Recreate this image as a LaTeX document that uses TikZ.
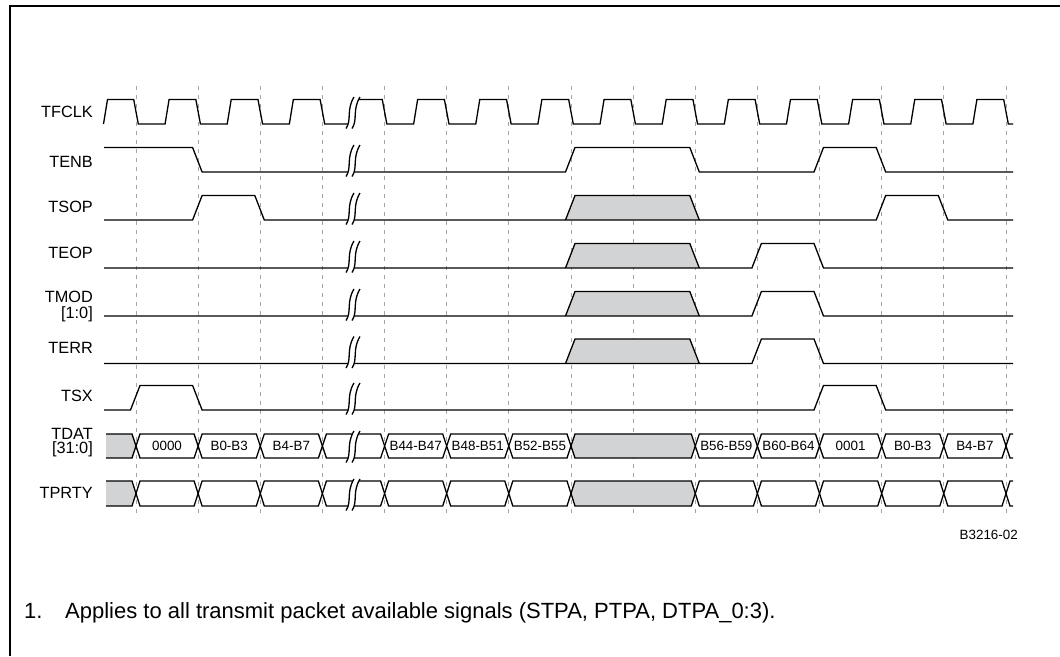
\documentclass[tikz,border=0pt]{standalone}
\usepackage{fontspec}
\setmainfont{Liberation Sans}
\definecolor{shadegray}{RGB}{210,211,213}
\definecolor{gridc}{RGB}{165,165,165}
\def\xA{136}\def\xB{198.1}\def\xC{260.3}\def\xD{322.4}\def\xE{384.6}
\def\xF{446.7}\def\xG{508.8}\def\xH{571.0}\def\xI{633.1}\def\xJ{695.3}
\def\xK{757.4}\def\xL{819.5}\def\xM{881.7}\def\xN{943.8}\def\xO{1006.0}
\newcommand\sigfont{\fontsize{16.3}{19}\selectfont}
\newcommand\busfont{\fontsize{13.4}{16}\selectfont}
\newcommand\notefont{\fontsize{22}{26}\selectfont}
\tikzset{
  sig/.style={line width=1.3pt},
  gridline/.style={gridc, line width=0.9pt, dash pattern=on 4pt off 5pt},
  lbl/.style={font=\sigfont, anchor=base east, inner sep=0pt},
  blbl/.style={font=\busfont, inner sep=0pt},
  fnote/.style={font=\notefont, anchor=base west, inner sep=0pt},
}
% bus segment: #1 left x, #2 right x, #3 top y, #4 bottom y, #5 fill
\newcommand\busseg[5]{%
  \filldraw[sig, fill=#5] (#1,{(#3+#4)/2}) -- (#1+4,#3) -- (#2-4,#3) -- (#2,{(#3+#4)/2}) -- (#2-4,#4) -- (#1+4,#4) -- cycle;}
% break mark: #1 base (low) y of the row
\newcommand\brkmark[1]{%
  \fill[white] (346,#1+4.5) .. controls (352,#1-4) and (346,#1-14) .. (354,#1-27) -- (360,#1-27) .. controls (352,#1-14) and (358,#1-4) .. (352,#1+4.5) -- cycle;
  \draw[sig] (346,#1+4.5) .. controls (352,#1-4) and (346,#1-14) .. (354,#1-27);
  \draw[sig] (352,#1+4.5) .. controls (358,#1-4) and (352,#1-14) .. (360,#1-27);}
\begin{document}
\begin{tikzpicture}[x=1pt,y=-1pt]
\useasboundingbox (0,0) rectangle (1060,656);
\draw[line width=2pt] (10,656) -- (10,6) -- (1060,6);

% grid
\foreach \k in {0,...,14}{
  \draw[gridline] (136+62.14*\k,86) -- (136+62.14*\k,518);
}

% labels
\node[lbl] (lclk) at (93,117) {\sigfont TFCLK};
\node[lbl] (lenb) at (93,167) {\sigfont TENB};
\node[lbl] (lsop) at (93,212.5) {\sigfont TSOP};
\node[lbl] (leop) at (93,258) {\sigfont TEOP};
\node[lbl] (lmod) at (93,302) {\sigfont TMOD};
\node[lbl] (lmodb) at (93,318) {\sigfont [1:0]};
\node[lbl] (lerr) at (93,353.5) {\sigfont TERR};
\node[lbl] (lsx) at (93,401.5) {\sigfont TSX};
\node[lbl] (ldat) at (93,439) {\sigfont TDAT};
\node[lbl] (ldatb) at (93,453.5) {\sigfont [31:0]};
\node[lbl] (lprty) at (93,498.5) {\sigfont TPRTY};

% clock
\draw[sig] (103.5,124) -- (107.5,99.5)
  \foreach \k in {0,...,13}{ -- (136+62.14*\k-2.3,99.5) -- (136+62.14*\k+2.3,124) -- (136+62.14*\k+29.07,124) -- (136+62.14*\k+33.07,99.5) }
  -- (1003.7,99.5) -- (1008.3,124) -- (1013,124);

% TENB
\draw[sig] (104,147.5) -- (\xB-5.5,147.5) -- (\xB+4,172) -- (\xH-5.5,172) -- (\xH+4,147.5)
  -- (\xJ-5.5,147.5) -- (\xJ+4,172) -- (\xL-5.5,172) -- (\xL+4,147.5) -- (\xM-5.5,147.5)
  -- (\xM+4,172) -- (1013,172);

% TSOP
\fill[shadegray] (\xH-5.5,220) -- (\xH+4,195.5) -- (\xJ-5.5,195.5) -- (\xJ+4,220) -- cycle;
\draw[sig] (\xH-5.5,220) -- (\xH+4,195.5) -- (\xJ-5.5,195.5) -- (\xJ+4,220);
\draw[sig] (104,220) -- (\xB-5.5,220) -- (\xB+4,195.5) -- (\xC-5.5,195.5) -- (\xC+4,220)
  -- (\xM-5.5,220) -- (\xM+4,195.5) -- (\xN-5.5,195.5) -- (\xN+4,220) -- (1013,220);

% TEOP, TMOD, TERR
\foreach \b/\h in {268/243.5, 316/291.5, 363.5/339}{
  \fill[shadegray] (\xH-5.5,\b) -- (\xH+4,\h) -- (\xJ-5.5,\h) -- (\xJ+4,\b) -- cycle;
  \draw[sig] (\xH-5.5,\b) -- (\xH+4,\h) -- (\xJ-5.5,\h) -- (\xJ+4,\b);
  \draw[sig] (104,\b) -- (\xK-5.5,\b) -- (\xK+4,\h) -- (\xL-5.5,\h) -- (\xL+4,\b) -- (1013,\b);
}

% TSX
\draw[sig] (104,410) -- (\xA-5.5,410) -- (\xA+4,385.5) -- (\xB-5.5,385.5) -- (\xB+4,410)
  -- (\xL-5.5,410) -- (\xL+4,385.5) -- (\xM-5.5,385.5) -- (\xM+4,410) -- (1013,410);

% buses
\foreach \t/\bb in {434/458, 481/506}{
  \fill[shadegray] (106,\t) -- (\xA-4,\t) -- (\xA,{(\t+\bb)/2}) -- (\xA-4,\bb) -- (106,\bb) -- cycle;
  \draw[sig] (106,\t) -- (\xA-4,\t) -- (\xA,{(\t+\bb)/2}) -- (\xA-4,\bb) -- (106,\bb);
  \busseg{\xA}{\xB}{\t}{\bb}{white}
  \busseg{\xB}{\xC}{\t}{\bb}{white}
  \busseg{\xC}{\xD}{\t}{\bb}{white}
  \busseg{\xD}{\xE}{\t}{\bb}{white}
  \busseg{\xE}{\xF}{\t}{\bb}{white}
  \busseg{\xF}{\xG}{\t}{\bb}{white}
  \busseg{\xG}{\xH}{\t}{\bb}{white}
  \busseg{\xH}{\xJ}{\t}{\bb}{shadegray}
  \busseg{\xJ}{\xK}{\t}{\bb}{white}
  \busseg{\xK}{\xL}{\t}{\bb}{white}
  \busseg{\xL}{\xM}{\t}{\bb}{white}
  \busseg{\xM}{\xN}{\t}{\bb}{white}
  \busseg{\xN}{\xO}{\t}{\bb}{white}
  \draw[sig] (1013,\t) -- (\xO+4,\t) -- (\xO,{(\t+\bb)/2}) -- (\xO+4,\bb) -- (1013,\bb);
}

% bus labels
\node[blbl] (d1) at ({(\xA+\xB)/2},446) {0000};
\node[blbl] (d2) at ({(\xB+\xC)/2},446) {B0-B3};
\node[blbl] (d3) at ({(\xC+\xD)/2},446) {B4-B7};
\node[blbl] (d4) at ({(\xE+\xF)/2},446) {B44-B47};
\node[blbl] (d5) at ({(\xF+\xG)/2},446) {B48-B51};
\node[blbl] (d6) at ({(\xG+\xH)/2},446) {B52-B55};
\node[blbl] (d7) at ({(\xJ+\xK)/2},446) {B56-B59};
\node[blbl] (d8) at ({(\xK+\xL)/2},446) {B60-B64};
\node[blbl] (d9) at ({(\xL+\xM)/2},446) {0001};
\node[blbl] (d10) at ({(\xM+\xN)/2},446) {B0-B3};
\node[blbl] (d11) at ({(\xN+\xO)/2},446) {B4-B7};

% breaks
\brkmark{124}
\brkmark{172}
\brkmark{220}
\brkmark{268}
\brkmark{316}
\brkmark{363.5}
\brkmark{410}
\brkmark{458}
\brkmark{506}

% figure id and footnote
\node[blbl, anchor=east] (fig) at (1018,535) {B3216-02};
\node[fnote] (fnn) at (24,618) {1.};
\node[fnote] (fnt) at (65,618) {Applies to all transmit packet available signals (STPA, PTPA, DTPA\_0:3).};
\end{tikzpicture}
\end{document}
